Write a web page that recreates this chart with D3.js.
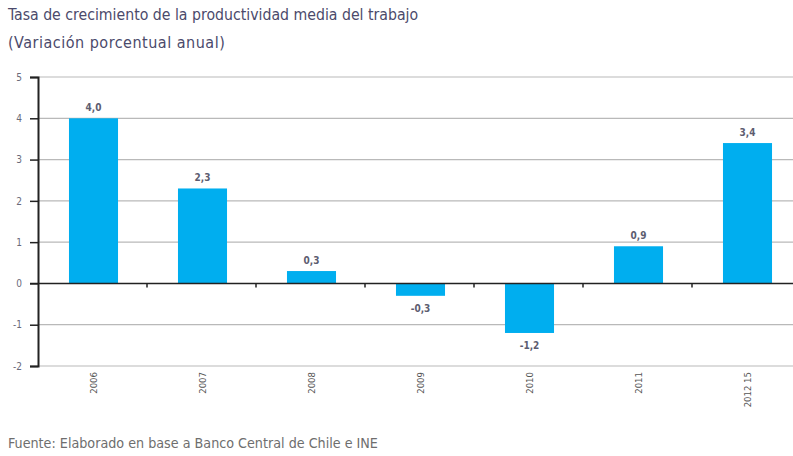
<!DOCTYPE html>
<html>
<head>
<meta charset="utf-8">
<script src="https://cdn.jsdelivr.net/npm/d3@7"></script>
<style>
  body { margin: 0; background: #fff; }
  text { font-family: "DejaVu Sans Condensed", "Liberation Sans Narrow", sans-serif; }
</style>
</head>
<body>
<svg id="chart"></svg>
<script>
// Chart data
const categories = ["2006", "2007", "2008", "2009", "2010", "2011", "2012 15"];
const values = [4.0, 2.3, 0.3, -0.3, -1.2, 0.9, 3.4];
const yTicks = [-2, -1, 0, 1, 2, 3, 4, 5];

const width = 793;
const height = 456;
const margin = { top: 77, right: -8, bottom: 90, left: 38 };

const svg = d3.select("#chart")
  .attr("width", width)
  .attr("height", height);

// Scales
const x = d3.scaleBand()
  .domain(categories)
  .range([margin.left, width - margin.right])
  .paddingInner(0.55)
  .paddingOuter(0.275);

// band boundaries for the ticks on the zero line
const step = (width - margin.right - margin.left) / categories.length;

const y = d3.scaleLinear()
  .domain([-2, 5])
  .range([366, margin.top]);

const fmt = v => d3.format(".1f")(v).replace(".", ",").replace("−", "-");

// Title
svg.append("text")
  .attr("x", 8).attr("y", 20)
  .style("font-size", "15.7px")
  .style("fill", "#4b4a6b")
  .text("Tasa de crecimiento de la productividad media del trabajo");
svg.append("text")
  .attr("x", 8).attr("y", 48)
  .style("font-size", "16px")
  .style("letter-spacing", "0.5px")
  .style("fill", "#4b4a6b")
  .text("(Variación porcentual anual)");

// Gridlines
svg.append("g")
  .selectAll("line")
  .data(yTicks.filter(d => d !== 0))
  .join("line")
  .attr("x1", margin.left)
  .attr("x2", width)
  .attr("y1", d => y(d))
  .attr("y2", d => y(d))
  .attr("stroke", "#b9b9b9")
  .attr("stroke-width", 1.2);

// Bars
svg.append("g")
  .selectAll("rect")
  .data(values)
  .join("rect")
  .attr("x", (d, i) => x(categories[i]) + 1)
  .attr("width", x.bandwidth())
  .attr("y", d => y(Math.max(0, d)))
  .attr("height", d => Math.abs(y(d) - y(0)))
  .attr("fill", "#00aeef");

// Zero line with category ticks
svg.append("line")
  .attr("x1", margin.left - 8).attr("x2", width)
  .attr("y1", y(0)).attr("y2", y(0))
  .attr("stroke", "#222").attr("stroke-width", 1.5);

svg.append("g")
  .selectAll("line")
  .data(d3.range(1, categories.length + 1))
  .join("line")
  .attr("x1", i => margin.left + i * step)
  .attr("x2", i => margin.left + i * step)
  .attr("y1", y(0)).attr("y2", y(0) + 4)
  .attr("stroke", "#222").attr("stroke-width", 1.5);

// Y axis
const yAxis = svg.append("g")
  .attr("transform", `translate(${margin.left},0)`)
  .call(d3.axisLeft(y).tickValues(yTicks).tickSize(8).tickPadding(8).tickFormat(d => String(d)));
yAxis.select(".domain").attr("stroke", "#222").attr("stroke-width", 2);
yAxis.selectAll(".tick line").attr("stroke", "#222").attr("stroke-width", 1.5);
yAxis.selectAll(".tick text")
  .style("font-size", "10px")
  .style("fill", "#6a6a7a")
  .style("font-family", "'DejaVu Sans Condensed', sans-serif");

// Value labels
svg.append("g")
  .selectAll("text")
  .data(values)
  .join("text")
  .attr("x", (d, i) => x(categories[i]) + x.bandwidth() / 2 + 1)
  .attr("y", d => d >= 0 ? y(d) - 7 : y(d) + 16)
  .attr("text-anchor", "middle")
  .style("font-size", "10px")
  .style("font-weight", "bold")
  .style("fill", "#5d5d70")
  .text(d => fmt(d));

// Category labels (rotated)
svg.append("g")
  .selectAll("text")
  .data(categories)
  .join("text")
  .attr("transform", d => `translate(${x(d) + x.bandwidth() / 2 + 4},372) rotate(-90)`)
  .attr("text-anchor", "end")
  .style("font-size", "9.5px")
  .style("fill", "#555")
  .text(d => d);

// Source note
svg.append("text")
  .attr("x", 8).attr("y", 448)
  .style("font-size", "14.2px")
  .style("fill", "#6e6e6e")
  .text("Fuente: Elaborado en base a Banco Central de Chile e INE");
</script>
</body>
</html>
